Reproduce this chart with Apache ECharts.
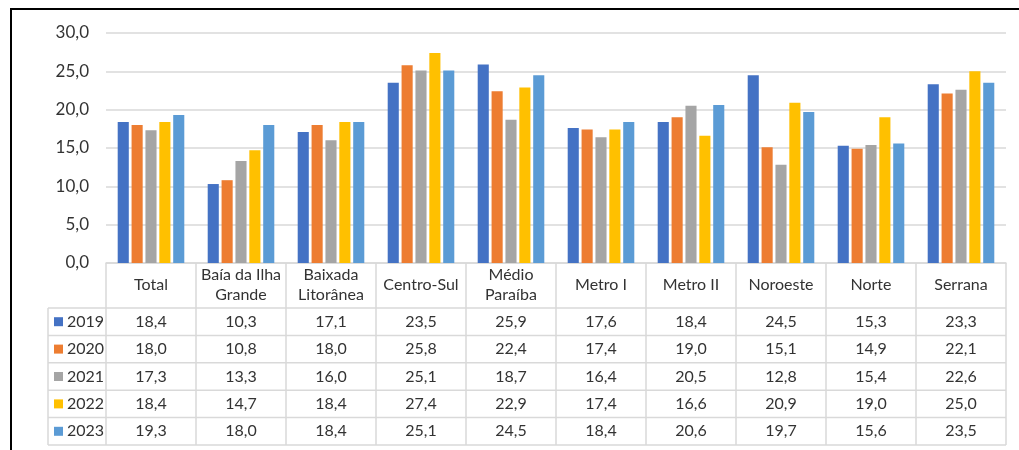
<!DOCTYPE html>
<html><head><meta charset="utf-8">
<script src="https://cdn.jsdelivr.net/npm/echarts@6/dist/echarts.min.js"></script>
<style>html,body{margin:0;padding:0;background:#fff}#c{width:1019px;height:450px}</style>
</head><body><div id="c"></div>
<script>
const categories = ['Total','Baía da Ilha\nGrande','Baixada\nLitorânea','Centro-Sul','Médio\nParaíba','Metro I','Metro II','Noroeste','Norte','Serrana'];
const years = ['2019','2020','2021','2022','2023'];
const v2019 = [18.4,10.3,17.1,23.5,25.9,17.6,18.4,24.5,15.3,23.3];
const v2020 = [18.0,10.8,18.0,25.8,22.4,17.4,19.0,15.1,14.9,22.1];
const v2021 = [17.3,13.3,16.0,25.1,18.7,16.4,20.5,12.8,15.4,22.6];
const v2022 = [18.4,14.7,18.4,27.4,22.9,17.4,16.6,20.9,19.0,25.0];
const v2023 = [19.3,18.0,18.4,25.1,24.5,18.4,20.6,19.7,15.6,23.5];
const yMin = 0, yMax = 30, yStep = 5;

const seriesValues = [v2019, v2020, v2021, v2022, v2023];
const colors = ['#4472C4','#ED7D31','#A5A5A5','#FFC000','#5B9BD5'];
const FONT = 'Lato';
const TXT = '#333333';
const fmt = v => v.toFixed(1).replace('.', ',');

const chart = echarts.init(document.getElementById('c'), null, {renderer: 'canvas'});
const grid = {left: 106, right: 13, top: 33, bottom: 187};
chart.setOption({
  animation: false,
  grid: grid,
  xAxis: {
    type: 'category', data: categories,
    axisLine: {show: true, lineStyle: {color: '#D9D9D9', width: 1.5}},
    axisTick: {show: false},
    axisLabel: {interval: 0, margin: 22, verticalAlign: 'middle', lineHeight: 20,
      color: TXT, fontFamily: FONT, fontSize: 16}
  },
  yAxis: {
    type: 'value', min: yMin, max: yMax, interval: yStep,
    axisLine: {show: false}, axisTick: {show: false},
    splitLine: {lineStyle: {color: '#D9D9D9', width: 1.5}},
    axisLabel: {formatter: fmt, margin: 17, color: TXT, fontFamily: FONT, fontSize: 17}
  },
  series: seriesValues.map((vals, i) => ({
    name: years[i], type: 'bar', data: vals,
    barGap: '25%', barCategoryGap: '26%',
    itemStyle: {color: colors[i]}
  }))
});

// Build data table below the axis
const headerH = 45, rowH = 27.4, legendLeft = 48;
const axisY = chart.convertToPixel({yAxisIndex: 0}, yMin);
const c0 = chart.convertToPixel({xAxisIndex: 0}, 0);
const c1 = chart.convertToPixel({xAxisIndex: 0}, 1);
const band = c1 - c0;
const leftX = c0 - band / 2;
const rightX = leftX + band * categories.length;
const rowsTop = axisY + headerH;
const tableBottom = rowsTop + rowH * years.length;
const lineStyle = {stroke: '#D9D9D9', lineWidth: 1.5};
const g = [];
// frame
g.push({type: 'polyline', shape: {points: [[11, 451], [11, 9], [1020, 9]]}, style: {stroke: '#000', lineWidth: 2, fill: null}});
// horizontal lines
for (let r = 0; r <= years.length; r++) {
  const y = rowsTop + r * rowH;
  g.push({type: 'line', shape: {x1: legendLeft, y1: y, x2: rightX, y2: y}, style: lineStyle});
}
// vertical lines
g.push({type: 'line', shape: {x1: legendLeft, y1: rowsTop, x2: legendLeft, y2: tableBottom}, style: lineStyle});
for (let k = 0; k <= categories.length; k++) {
  const x = leftX + k * band;
  g.push({type: 'line', shape: {x1: x, y1: axisY, x2: x, y2: tableBottom}, style: lineStyle});
}
// legend keys and values
years.forEach((yr, r) => {
  const cy = rowsTop + r * rowH + rowH / 2;
  g.push({type: 'rect', shape: {x: legendLeft + 6, y: cy - 4.5, width: 9, height: 9}, style: {fill: colors[r]}});
  g.push({type: 'text', x: legendLeft + 19, y: cy, style: {text: yr, fill: TXT, font: '16px ' + FONT, textVerticalAlign: 'middle', textAlign: 'left'}});
  seriesValues[r].forEach((v, c) => {
    const cx = chart.convertToPixel({xAxisIndex: 0}, c);
    g.push({type: 'text', x: cx, y: cy, style: {text: fmt(v), fill: TXT, font: '16px ' + FONT, textAlign: 'center', textVerticalAlign: 'middle'}});
  });
});
chart.setOption({graphic: g.map(e => Object.assign({silent: true}, e))});
</script></body></html>
